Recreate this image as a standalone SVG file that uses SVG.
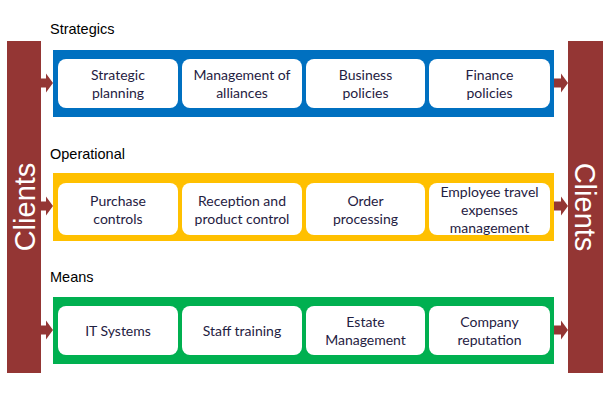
<svg xmlns="http://www.w3.org/2000/svg" width="603" height="418" viewBox="0 0 603 418">
<style>
.bar{fill:#943634}
.arr{fill:#943634}
.box{fill:#ffffff}
.t{font-family:"Lato","Liberation Sans",sans-serif;font-size:14px;fill:#1f2142;text-anchor:middle}
.lbl{font-family:"Liberation Sans",Arial,sans-serif;font-size:14.5px;fill:#000000}
.cl{font-family:"Liberation Sans",Arial,sans-serif;font-size:29px;fill:#ffffff;text-anchor:middle}
</style>
<rect width="603" height="418" fill="#ffffff"/>
<g id="clients-left">
<rect class="bar" x="7" y="41" width="34" height="332"/>
<text class="cl" transform="translate(34.5,207) rotate(-90)">Clients</text>
</g>
<g id="clients-right">
<rect class="bar" x="568" y="41" width="35" height="332"/>
<text class="cl" transform="translate(575,207) rotate(90)">Clients</text>
</g>
<text class="lbl" x="50" y="34">Strategics</text>
<text class="lbl" x="50" y="159">Operational</text>
<text class="lbl" x="50" y="282">Means</text>
<g id="strategics">
<rect x="53" y="50" width="501" height="67" fill="#0070c0"/>
<g id="strategic-planning"><rect class="box" x="58" y="59" width="120" height="49" rx="8"/><text class="t" x="118" y="80">Strategic</text><text class="t" x="118" y="97.5">planning</text></g>
<g id="management-alliances"><rect class="box" x="182" y="59" width="120" height="49" rx="8"/><text class="t" x="242" y="80">Management of</text><text class="t" x="242" y="97.5">alliances</text></g>
<g id="business-policies"><rect class="box" x="306" y="59" width="119" height="49" rx="8"/><text class="t" x="365.5" y="80">Business</text><text class="t" x="365.5" y="97.5">policies</text></g>
<g id="finance-policies"><rect class="box" x="429" y="59" width="121" height="49" rx="8"/><text class="t" x="489.5" y="80">Finance</text><text class="t" x="489.5" y="97.5">policies</text></g>
</g>
<g id="operational">
<rect x="53" y="173" width="501" height="68" fill="#ffc000"/>
<g id="purchase-controls"><rect class="box" x="58" y="183" width="120" height="52" rx="8"/><text class="t" x="118" y="206">Purchase</text><text class="t" x="118" y="224">controls</text></g>
<g id="reception"><rect class="box" x="182" y="183" width="120" height="52" rx="8"/><text class="t" x="242" y="206">Reception and</text><text class="t" x="242" y="224">product control</text></g>
<g id="order-processing"><rect class="box" x="306" y="183" width="119" height="52" rx="8"/><text class="t" x="365.5" y="206">Order</text><text class="t" x="365.5" y="224">processing</text></g>
<g id="employee-travel"><rect class="box" x="429" y="183" width="121" height="52" rx="8"/><text class="t" x="489.5" y="197">Employee travel</text><text class="t" x="489.5" y="215">expenses</text><text class="t" x="489.5" y="232.5">management</text></g>
</g>
<g id="means">
<rect x="53" y="297" width="501" height="67" fill="#00b050"/>
<g id="it-systems"><rect class="box" x="58" y="306" width="120" height="49" rx="8"/><text class="t" x="118" y="335.5">IT Systems</text></g>
<g id="staff-training"><rect class="box" x="182" y="306" width="120" height="49" rx="8"/><text class="t" x="242" y="335.5">Staff training</text></g>
<g id="estate-management"><rect class="box" x="306" y="306" width="119" height="49" rx="8"/><text class="t" x="365.5" y="327">Estate</text><text class="t" x="365.5" y="345">Management</text></g>
<g id="company-reputation"><rect class="box" x="429" y="306" width="121" height="49" rx="8"/><text class="t" x="489.5" y="327">Company</text><text class="t" x="489.5" y="345">reputation</text></g>
</g>
<g id="connectors">
<polygon class="arr" points="41,78.5 46,78.5 46,73.5 53,83 46,92.5 46,87.5 41,87.5"/>
<polygon class="arr" points="554,78.5 561,78.5 561,73.5 568,83 561,92.5 561,87.5 554,87.5"/>
<polygon class="arr" points="41,201.5 46,201.5 46,196.5 53,206 46,215.5 46,210.5 41,210.5"/>
<polygon class="arr" points="554,201.5 561,201.5 561,196.5 568,206 561,215.5 561,210.5 554,210.5"/>
<polygon class="arr" points="41,325.5 46,325.5 46,320.5 53,330 46,339.5 46,334.5 41,334.5"/>
<polygon class="arr" points="554,325.5 561,325.5 561,320.5 568,330 561,339.5 561,334.5 554,334.5"/>
</g>
</svg>
